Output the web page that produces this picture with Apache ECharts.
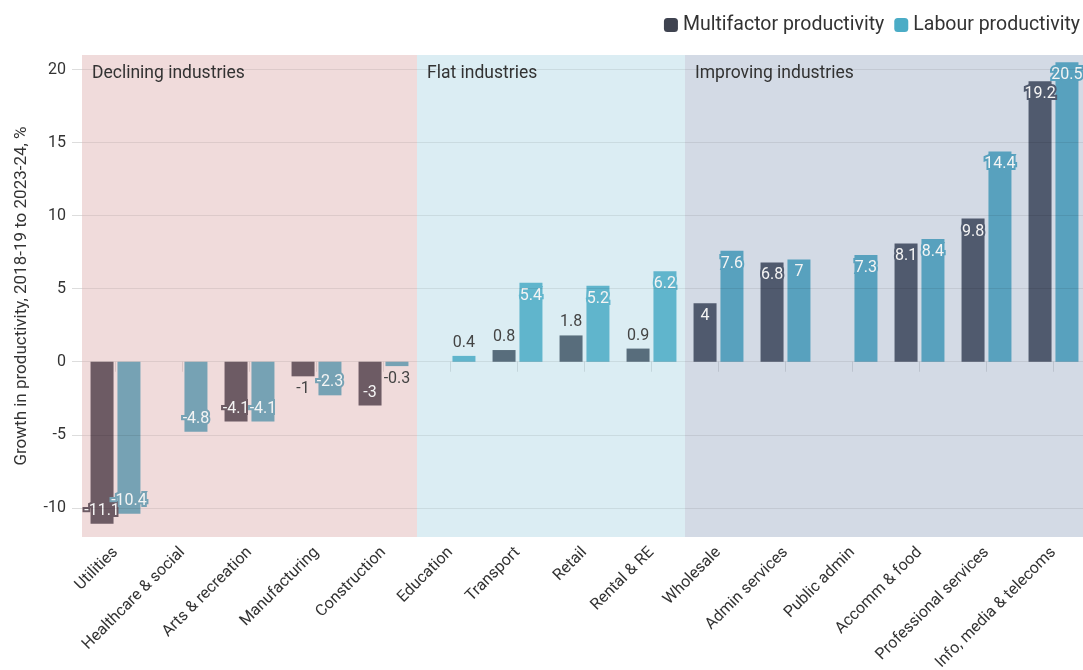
<!DOCTYPE html>
<html>
<head>
<meta charset="utf-8">
<title>Productivity growth by industry</title>
<script src="https://cdn.jsdelivr.net/npm/echarts@6/dist/echarts.min.js"></script>
<style>
  html, body { margin: 0; padding: 0; background: #ffffff; }
  #chart { width: 1083px; height: 670px; }
</style>
</head>
<body>
<div id="chart"></div>
<script>
// Industries, ordered by group
const categories = [
  'Utilities', 'Healthcare & social', 'Arts & recreation', 'Manufacturing', 'Construction',
  'Education', 'Transport', 'Retail', 'Rental & RE',
  'Wholesale', 'Admin services', 'Public admin', 'Accomm & food', 'Professional services', 'Info, media & telecoms'
];
// Growth in productivity, 2018-19 to 2023-24, %
const multifactor = [-11.1, null, -4.1, -1, -3, null, 0.8, 1.8, 0.9, 4, 6.8, null, 8.1, 9.8, 19.2];
const labour = [-10.4, -4.8, -4.1, -2.3, -0.3, 0.4, 5.4, 5.2, 6.2, 7.6, 7, 7.3, 8.4, 14.4, 20.5];
const yTicks = [-10, -5, 0, 5, 10, 15, 20];

// Industry groups (category index ranges, end exclusive)
const groupNames = ['Declining industries', 'Flat industries', 'Improving industries'];
const groupStart = [0, 5, 9];
const groupEnd = [5, 9, 15];

// Styling
const FONT = 'Roboto, "Noto Sans", sans-serif';
const TEXT = '#333333';
const TINT_ALPHA = 0.32;
const groupTints = [[208, 142, 142], [142, 199, 217], [117, 139, 174]];
const MF_RGB = [63, 67, 80];
const LP_RGB = [75, 172, 198];

const rgb = c => `rgb(${c.map(Math.round).join(',')})`;
const tintOf = idx => groupTints[groupStart.findIndex((s, g) => idx >= s && idx < groupEnd[g])];
// Bar colour as seen through the group's translucent tint
const shaded = (base, idx) => {
  const t = tintOf(idx);
  return rgb(base.map((v, k) => v * (1 - TINT_ALPHA) + t[k] * TINT_ALPHA));
};

function barData(values, base) {
  return values.map((v, i) => {
    if (v === null) return null;
    const color = shaded(base, i);
    const inside = Math.abs(v) >= 2;
    return {
      value: v,
      itemStyle: { color },
      label: inside ? {
        position: v >= 0 ? 'insideTop' : 'insideBottom',
        distance: 5,
        color: '#f4f4f4',
        textBorderColor: color,
        textBorderWidth: 4
      } : {
        position: v >= 0 ? 'top' : 'bottom',
        distance: 5,
        color: '#444444',
        textBorderWidth: 0
      }
    };
  });
}

const barLabel = { show: true, fontSize: 16, fontFamily: FONT };

const chart = echarts.init(document.getElementById('chart'), null, { renderer: 'canvas' });
chart.setOption({
  animation: false,
  textStyle: { fontFamily: FONT },
  legend: {
    top: 10,
    right: -2,
    itemWidth: 14,
    itemHeight: 14,
    itemGap: 10,
    icon: 'roundRect',
    textStyle: { fontSize: 19.5, color: TEXT, fontFamily: FONT },
    data: ['Multifactor productivity', 'Labour productivity']
  },
  grid: { left: 82, right: -4, top: 55, bottom: 133, containLabel: false, outerBoundsMode: 'none' },
  xAxis: [
    {
      type: 'category',
      data: categories,
      axisLine: { show: false },
      axisTick: { show: true, alignWithLabel: true, length: 10, lineStyle: { color: '#dddddd' } },
      axisLabel: { rotate: 45, fontSize: 16, color: TEXT, margin: 13, interval: 0, fontFamily: FONT }
    },
    { type: 'value', min: 0, max: 15, show: false }
  ],
  yAxis: {
    type: 'value',
    min: -12,
    max: 21,
    name: 'Growth in productivity, 2018-19 to 2023-24, %',
    nameLocation: 'middle',
    nameGap: 52,
    nameTextStyle: { fontSize: 17, color: TEXT, fontFamily: FONT },
    axisLine: { show: false },
    axisTick: { show: true, length: 10, customValues: yTicks, lineStyle: { color: '#dddddd' } },
    axisLabel: { fontSize: 16, color: TEXT, margin: 16, customValues: yTicks, fontFamily: FONT },
    splitLine: { show: false }
  },
  series: [
    {
      name: 'Multifactor productivity',
      type: 'bar',
      barWidth: 23,
      barGap: '17%',
      itemStyle: { color: rgb(MF_RGB) },
      label: barLabel,
      data: barData(multifactor, MF_RGB)
    },
    {
      name: 'Labour productivity',
      type: 'bar',
      barWidth: 23,
      barGap: '17%',
      itemStyle: { color: rgb(LP_RGB) },
      label: barLabel,
      data: barData(labour, LP_RGB)
    },
    {
      // Group bands and horizontal gridlines
      name: 'groups',
      type: 'line',
      xAxisIndex: 1,
      data: [],
      silent: true,
      markArea: {
        silent: true,
        data: groupNames.map((name, g) => [
          {
            name,
            xAxis: groupStart[g],
            itemStyle: { color: `rgba(${groupTints[g].join(',')},${TINT_ALPHA})` }
          },
          { xAxis: groupEnd[g] }
        ]),
        label: {
          show: true,
          position: 'insideTopLeft',
          distance: 10,
          fontSize: 17.5,
          color: TEXT,
          fontFamily: FONT
        }
      },
      markLine: {
        silent: true,
        symbol: 'none',
        label: { show: false },
        lineStyle: { color: 'rgba(0,0,0,0.08)', type: 'solid', width: 1 },
        data: yTicks.map(v => ({ yAxis: v }))
      }
    }
  ]
});
</script>
</body>
</html>
